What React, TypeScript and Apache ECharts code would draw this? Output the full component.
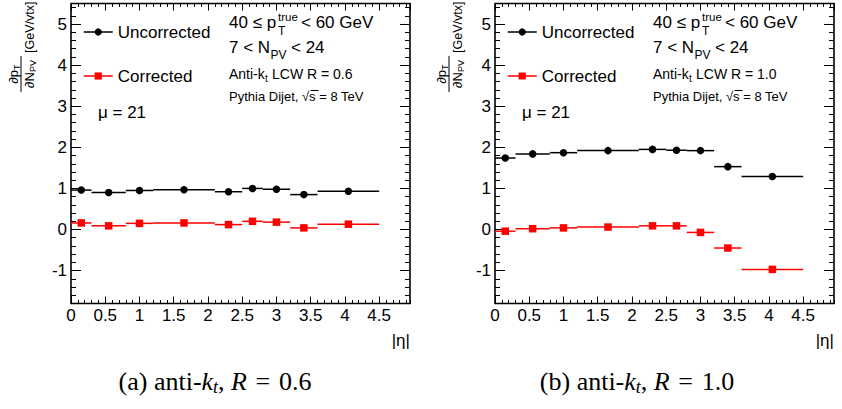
import React, { useEffect, useRef } from "react";
import * as echarts from "echarts";

// ---- data ----
const binEdges = [0, 0.3, 0.8, 1.2, 2.1, 2.5, 2.8, 3.2, 3.6, 4.5];
const etaCenters = [0.15, 0.55, 1.0, 1.65, 2.3, 2.65, 3.0, 3.4, 4.05];

const uncorrectedR06 = [0.96, 0.9, 0.95, 0.97, 0.92, 1.0, 0.98, 0.85, 0.93];
const correctedR06 = [0.16, 0.09, 0.15, 0.16, 0.12, 0.2, 0.18, 0.04, 0.13];
const uncorrectedR10 = [1.74, 1.84, 1.87, 1.92, 1.95, 1.93, 1.92, 1.53, 1.29];
const correctedR10 = [-0.04, 0.02, 0.04, 0.06, 0.09, 0.09, -0.07, -0.45, -0.97];

const xMin = 0;
const xMax = 4.95;
const yMin = -1.8;
const yMax = 5.5;
const yTickLabels = [-1, 0, 1, 2, 3, 4, 5];

const radiusLabels = ["0.6", "1.0"];
const captionLetters = ["(a)", "(b)"];

const FONT = "'Liberation Sans', Arial, Helvetica, sans-serif";
const SERIF = "'Liberation Serif', 'Times New Roman', serif";

const panels = [
  { left: 71, unc: uncorrectedR06, cor: correctedR06, R: radiusLabels[0], cap: captionLetters[0], capX: 215, labX: 21 },
  { left: 495, unc: uncorrectedR10, cor: correctedR10, R: radiusLabels[1], cap: captionLetters[1], capX: 637, labX: 449 },
];

function txt(x: number, y: number, text: string, size: number, extra: any = {}) {
  return {
    type: "text",
    x,
    y,
    silent: true,
    style: { text, fontSize: size, fontFamily: FONT, fill: "#000", align: "left", verticalAlign: "middle", ...extra },
  };
}

function buildOption() {
  const grid: any[] = [];
  const xAxis: any[] = [];
  const yAxis: any[] = [];
  const series: any[] = [];
  const legend: any[] = [];
  const graphics: any[] = [];

  panels.forEach((p, gi) => {
    grid.push({
      left: p.left,
      top: 3.5,
      width: 339,
      height: 300,
      show: true,
      borderColor: "#000",
      borderWidth: 1.6,
      backgroundColor: "transparent",
    });
    const mkX = (pos: string, interval: number, len: number, labels: boolean) => ({
      gridIndex: gi,
      type: "value",
      position: pos,
      min: xMin,
      max: xMax,
      interval,
      axisLine: { show: false, onZero: false },
      axisTick: { show: true, inside: true, length: len, lineStyle: { color: "#000", width: 1 } },
      axisLabel: labels
        ? {
            show: true,
            fontSize: 17,
            fontFamily: FONT,
            color: "#000",
            margin: 3,
            showMaxLabel: false,
            formatter: (v: number) => String(Math.round(v * 100) / 100),
          }
        : { show: false },
      splitLine: { show: false },
    });
    xAxis.push(mkX("bottom", 0.5, 7, true), mkX("bottom", 0.1, 3.5, false), mkX("top", 0.5, 7, false), mkX("top", 0.1, 3.5, false));

    const mkYMajor = (pos: string, labels: boolean) => ({
      gridIndex: gi,
      type: "value",
      position: pos,
      min: yMin,
      max: yMax,
      splitNumber: 7,
      axisLine: { show: false, onZero: false },
      axisTick: { show: true, inside: true, length: 10, lineStyle: { color: "#000", width: 1 } },
      axisLabel: labels
        ? {
            show: true,
            fontSize: 17,
            fontFamily: FONT,
            color: "#000",
            margin: 4,
            showMinLabel: false,
            showMaxLabel: false,
            formatter: (v: number) => (yTickLabels.indexOf(Math.round(v * 1000) / 1000) >= 0 ? String(Math.round(v)) : ""),
          }
        : { show: false },
      splitLine: { show: false },
    });
    const mkYMinor = (pos: string) => ({
      gridIndex: gi,
      type: "value",
      position: pos,
      min: yMin,
      max: yMax,
      interval: 0.2,
      axisLine: { show: false, onZero: false },
      axisTick: { show: true, inside: true, length: 5, lineStyle: { color: "#000", width: 1 } },
      axisLabel: { show: false },
      splitLine: { show: false },
    });
    yAxis.push(mkYMajor("left", true), mkYMinor("left"), mkYMajor("right", false), mkYMinor("right"));

    const xi = gi * 4;
    const yi = gi * 4;
    const defs = [
      { name: "Uncorrected", vals: p.unc, color: "#000000", symbol: "circle" },
      { name: "Corrected", vals: p.cor, color: "#ff0000", symbol: "rect" },
    ];
    defs.forEach((d) => {
      series.push({
        name: d.name + " bins",
        type: "custom",
        xAxisIndex: xi,
        yAxisIndex: yi,
        z: 2,
        silent: true,
        encode: { x: [0, 1], y: 2 },
        data: d.vals.map((v, i) => [binEdges[i], binEdges[i + 1], v]),
        renderItem: (params: any, api: any) => {
          const y = api.value(2);
          const a = api.coord([api.value(0), y]);
          const b = api.coord([api.value(1), y]);
          return {
            type: "line",
            shape: { x1: a[0], y1: a[1], x2: b[0], y2: b[1] },
            style: { stroke: d.color, lineWidth: 1.5 },
          };
        },
      });
    });
    defs.forEach((d) => {
      series.push({
        name: d.name,
        type: "line",
        xAxisIndex: xi,
        yAxisIndex: yi,
        z: 3,
        symbol: d.symbol,
        symbolSize: 7.5,
        showSymbol: true,
        silent: true,
        itemStyle: { color: d.color, borderWidth: 0 },
        lineStyle: { width: 0, opacity: 0, color: d.color },
        data: etaCenters.map((c, i) => [c, d.vals[i]]),
      });
    });

    const dx = p.left - 71;
    legend.push({
      data: ["Uncorrected", "Corrected"],
      orient: "vertical",
      left: 83 + dx,
      top: 22,
      padding: 0,
      itemWidth: 29,
      itemHeight: 9,
      itemGap: 24,
      selectedMode: false,
      lineStyle: { width: 1.5, opacity: 1 },
      textStyle: { fontSize: 17, fontFamily: FONT, color: "#000", lineHeight: 20 },
    });

    graphics.push(
      txt(229 + dx, 22, "40 ≤ p", 17),
      txt(278 + dx, 16.5, "true", 11.5),
      txt(278 + dx, 30.5, "T", 12),
      txt(301 + dx, 22, "< 60 GeV", 17),
      txt(229 + dx, 47, "7 < N", 17),
      txt(270.5 + dx, 55, "PV", 12),
      txt(291 + dx, 47, "< 24", 17),
      txt(229 + dx, 74, "Anti-k", 14),
      txt(265 + dx, 78.5, "t", 10),
      txt(272 + dx, 74, "LCW R = " + p.R, 14),
      txt(229 + dx, 96, "Pythia Dijet, √s = 8 TeV", 13),
      {
        type: "line",
        silent: true,
        shape: { x1: 310.5 + dx, y1: 90.5, x2: 318.5 + dx, y2: 90.5 },
        style: { stroke: "#000", lineWidth: 1 },
      },
      txt(98 + dx, 112, "μ = 21", 17),
      txt(p.left + 339, 340, "|η|", 17, { align: "right" }),
      {
        type: "group",
        x: p.labX,
        y: 92,
        rotation: Math.PI / 2,
        silent: true,
        children: [
          { type: "line", shape: { x1: 0, y1: 0, x2: 36, y2: 0 }, style: { stroke: "#000", lineWidth: 1 } },
          { type: "text", x: 8.4, y: -1, style: { text: "∂p", fontSize: 13, fontFamily: FONT, fill: "#000", align: "left", verticalAlign: "bottom" } },
          { type: "text", x: 22.1, y: 0, style: { text: "T", fontSize: 9, fontFamily: FONT, fill: "#000", align: "left", verticalAlign: "bottom" } },
          { type: "text", x: 4.1, y: 2, style: { text: "∂N", fontSize: 13, fontFamily: FONT, fill: "#000", align: "left", verticalAlign: "top" } },
          { type: "text", x: 19.9, y: 7.7, style: { text: "PV", fontSize: 9, fontFamily: FONT, fill: "#000", align: "left", verticalAlign: "top" } },
          { type: "text", x: 39, y: 2, style: { text: "[GeV/vtx]", fontSize: 12.5, fontFamily: FONT, fill: "#000", align: "left", verticalAlign: "top" } },
        ],
      },
      {
        type: "text",
        x: p.capX,
        y: 381,
        silent: true,
        style: {
          text: "{n|" + p.cap + " anti-}{i|k}{s|t}{n|, }{i|R}{n| \u200A=\u200A " + p.R + "}",
          align: "center",
          verticalAlign: "middle",
          fill: "#000",
          rich: {
            n: { fontSize: 26, fontFamily: SERIF, lineHeight: 30 },
            i: { fontSize: 26, fontFamily: SERIF, fontStyle: "italic", lineHeight: 30 },
            s: { fontSize: 18, fontFamily: SERIF, fontStyle: "italic", lineHeight: 18, verticalAlign: "bottom" },
          },
        },
      }
    );
  });

  return {
    animation: false,
    backgroundColor: "#ffffff",
    grid,
    xAxis,
    yAxis,
    legend,
    series,
    graphic: { elements: graphics },
  };
}

export default function App() {
  const ref = useRef<HTMLDivElement>(null);
  useEffect(() => {
    if (!ref.current) return;
    const chart = echarts.init(ref.current, undefined, { renderer: "svg" });
    chart.setOption(buildOption() as any);
    return () => chart.dispose();
  }, []);
  return <div ref={ref} style={{ position: "fixed", left: 0, top: 0, width: 842, height: 409 }} />;
}
